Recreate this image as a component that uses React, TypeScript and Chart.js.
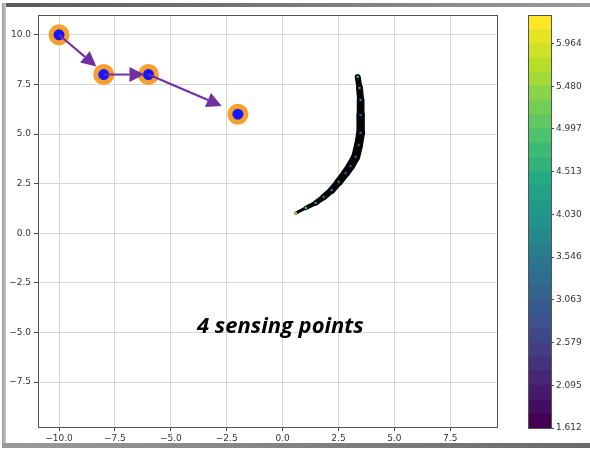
import React, { useEffect, useRef } from "react";
import { Chart, registerables } from "chart.js";

Chart.register(...registerables);

// Sensing locations visited in order
const sensorX = [-10, -8, -6, -2];
const sensorY = [10, 8, 8, 6];

// Arrows between consecutive sensing locations (tail -> tip)
const arrowFromX = [-10, -8, -6];
const arrowFromY = [10, 8, 8];
const arrowToX = [-8.33, -6.18, -2.72];
const arrowToY = [8.4, 8.0, 6.42];

// Estimated source trajectory and its field value
const pathX = [3.36, 3.44, 3.49, 3.49, 3.49, 3.4, 3.27, 3.04, 2.82, 2.51, 2.2, 1.84, 1.48, 1.04, 0.59];
const pathY = [7.88, 7.32, 6.72, 5.96, 5.06, 4.45, 3.85, 3.39, 3.04, 2.59, 2.18, 1.83, 1.53, 1.28, 1.02];
const pathValue = [4.6, 4.3, 3.4, 3.0, 2.9, 2.8, 2.7, 2.9, 3.1, 3.3, 3.5, 3.7, 4.2, 4.9, 5.9];

const xTicks = [-10, -7.5, -5, -2.5, 0, 2.5, 5, 7.5];
const yTicks = [-7.5, -5, -2.5, 0, 2.5, 5, 7.5, 10];
const xRange = [-10.94, 9.59];
const yRange = [-9.76, 11.0];

const cbarTicks = [1.612, 2.095, 2.579, 3.063, 3.546, 4.03, 4.513, 4.997, 5.48, 5.964];
const cbarMin = 1.612;
const cbarMax = 6.287;
const cbarLevels = 29;

const caption = "4 sensing points";
const captionAt = [-0.1, -4.72];

const VIRIDIS = [
  [68, 1, 84], [72, 36, 117], [65, 68, 135], [53, 95, 141], [42, 120, 142],
  [33, 145, 140], [34, 168, 132], [68, 191, 112], [122, 209, 81], [189, 223, 38], [253, 231, 37],
];

function viridis(t: number): string {
  const c = Math.max(0, Math.min(1, t)) * (VIRIDIS.length - 1);
  const i = Math.min(VIRIDIS.length - 2, Math.floor(c));
  const f = c - i;
  const a = VIRIDIS[i], b = VIRIDIS[i + 1];
  const m = (k: number) => Math.round(a[k] + (b[k] - a[k]) * f);
  return `rgb(${m(0)},${m(1)},${m(2)})`;
}

const valueColor = (v: number) => viridis((v - cbarMin) / (cbarMax - cbarMin));

const FONT = { family: "'DejaVu Sans', sans-serif", size: 9 };
const TICK_COLOR = "#333";

const fmtAxis = (v: number) => v.toFixed(1).replace("-", "\u2212");

const mainOverlay = {
  id: "mainOverlay",
  afterDatasetsDraw(chart: any) {
    const { ctx, scales } = chart;
    const xs = scales.x, ys = scales.y;
    ctx.save();
    // arrows
    ctx.strokeStyle = "#7030a0";
    ctx.fillStyle = "#7030a0";
    ctx.lineWidth = 2;
    for (let i = 0; i < arrowFromX.length; i++) {
      const x0 = xs.getPixelForValue(arrowFromX[i]);
      const y0 = ys.getPixelForValue(arrowFromY[i]);
      const x1 = xs.getPixelForValue(arrowToX[i]);
      const y1 = ys.getPixelForValue(arrowToY[i]);
      const ang = Math.atan2(y1 - y0, x1 - x0);
      const headLen = 15, headHalf = 7.5;
      const bx = x1 - headLen * Math.cos(ang);
      const by = y1 - headLen * Math.sin(ang);
      ctx.beginPath();
      ctx.moveTo(x0, y0);
      ctx.lineTo(bx, by);
      ctx.stroke();
      ctx.beginPath();
      ctx.moveTo(x1, y1);
      ctx.lineTo(bx + headHalf * Math.sin(ang), by - headHalf * Math.cos(ang));
      ctx.lineTo(bx - headHalf * Math.sin(ang), by + headHalf * Math.cos(ang));
      ctx.closePath();
      ctx.fill();
    }
    // caption
    ctx.fillStyle = "#000";
    ctx.font = "italic bold 22px 'Open Sans', sans-serif";
    ctx.textAlign = "center";
    ctx.textBaseline = "middle";
    ctx.fillText(caption, xs.getPixelForValue(captionAt[0]), ys.getPixelForValue(captionAt[1]));
    ctx.restore();
  },
  afterDraw(chart: any) {
    const { ctx, chartArea: a } = chart;
    ctx.save();
    ctx.strokeStyle = "#555";
    ctx.lineWidth = 1;
    ctx.strokeRect(Math.round(a.left) + 0.5, Math.round(a.top) + 0.5, Math.round(a.right - a.left), Math.round(a.bottom - a.top));
    ctx.restore();
  },
};

const cbarOutline = {
  id: "cbarOutline",
  afterDatasetsDraw(chart: any) {
    const { ctx, chartArea: a } = chart;
    ctx.save();
    ctx.strokeStyle = "#555";
    ctx.lineWidth = 1;
    ctx.strokeRect(Math.round(a.left) + 0.5, Math.round(a.top) + 0.5, Math.round(a.right - a.left), Math.round(a.bottom - a.top));
    ctx.restore();
  },
};

function MainPlot() {
  const ref = useRef<HTMLCanvasElement>(null);
  useEffect(() => {
    const n = pathX.length;
    const chart = new Chart(ref.current!, {
      type: "scatter",
      data: {
        datasets: [
          {
            data: sensorX.map((x, i) => ({ x, y: sensorY[i] })),
            pointRadius: 8,
            pointBorderWidth: 5,
            pointBorderColor: "#f7a02c",
            pointBackgroundColor: "#1616ff",
            order: 1,
          } as any,
          {
            data: pathX.map((x, i) => ({ x, y: pathY[i] })),
            pointRadius: 1.3,
            pointBorderWidth: 0,
            pointBackgroundColor: pathValue.map(valueColor),
            order: 2,
          },
          {
            data: pathX.map((x, i) => ({ x, y: pathY[i] })),
            showLine: true,
            borderColor: "#050505",
            borderCapStyle: "round",
            borderJoinStyle: "round",
            pointRadius: 0,
            segment: {
              borderWidth: (c: any) => {
                const t = (c.p0DataIndex + 0.5) / (n - 1);
                return 2.5 + 6.5 * Math.sin(Math.PI * (0.15 + 0.85 * t));
              },
            },
            order: 3,
          } as any,
        ],
      },
      options: {
        animation: false,
        responsive: false,
        devicePixelRatio: 1,
        layout: { padding: { left: 8, right: 11, top: 15, bottom: 5 } },
        plugins: { legend: { display: false }, tooltip: { enabled: false } },
        scales: {
          x: {
            type: "linear",
            min: xRange[0],
            max: xRange[1],
            afterBuildTicks: (s: any) => { s.ticks = xTicks.map((value) => ({ value })); },
            afterFit: (s: any) => { s.height = 18; },
            ticks: { font: FONT, color: TICK_COLOR, padding: 2, maxRotation: 0, callback: (v: any) => fmtAxis(Number(v)) },
            grid: { color: "#d6d6d6", lineWidth: 1, tickLength: 4, tickColor: "#444" },
            border: { display: false },
          },
          y: {
            type: "linear",
            min: yRange[0],
            max: yRange[1],
            afterBuildTicks: (s: any) => { s.ticks = yTicks.map((value) => ({ value })); },
            afterFit: (s: any) => { s.width = 30; },
            ticks: { font: FONT, color: TICK_COLOR, padding: 3, callback: (v: any) => fmtAxis(Number(v)) },
            grid: { color: "#d6d6d6", lineWidth: 1, tickLength: 4, tickColor: "#444" },
            border: { display: false },
          },
        },
      },
      plugins: [mainOverlay],
    } as any);
    return () => chart.destroy();
  }, []);
  return <canvas ref={ref} width={510} height={450} style={{ position: "absolute", left: 0, top: 0 }} />;
}

function ColorBar() {
  const ref = useRef<HTMLCanvasElement>(null);
  useEffect(() => {
    const step = (cbarMax - cbarMin) / cbarLevels;
    const bands = Array.from({ length: cbarLevels }, (_, i) => ({
      lo: cbarMin + i * step,
      hi: cbarMin + (i + 1) * step,
      color: viridis(i / (cbarLevels - 1)),
    }));
    const chart = new Chart(ref.current!, {
      type: "bar",
      data: {
        labels: ["band"],
        datasets: bands.map((b) => ({
          data: [[b.lo, b.hi]],
          backgroundColor: b.color,
          borderWidth: 0,
          barPercentage: 1,
          categoryPercentage: 1,
          grouped: false,
        })),
      },
      options: {
        animation: false,
        responsive: false,
        devicePixelRatio: 1,
        layout: { padding: { left: 18, right: 0, top: 15, bottom: 22 } },
        plugins: { legend: { display: false }, tooltip: { enabled: false } },
        scales: {
          x: { display: false },
          y: {
            position: "right",
            min: cbarMin,
            max: cbarMax,
            afterBuildTicks: (s: any) => { s.ticks = cbarTicks.map((value) => ({ value })); },
            afterFit: (s: any) => { s.width = 39; },
            ticks: { font: FONT, color: TICK_COLOR, padding: 2, callback: (v: any) => Number(v).toFixed(3) },
            grid: { drawOnChartArea: false, tickLength: 3, tickColor: "#444" },
            border: { display: false },
          },
        },
      },
      plugins: [cbarOutline],
    } as any);
    return () => chart.destroy();
  }, []);
  return <canvas ref={ref} width={80} height={450} style={{ position: "absolute", left: 510, top: 0 }} />;
}

export default function App() {
  return (
    <div style={{ position: "fixed", left: 0, top: 0, width: 590, height: 450, background: "#fff", overflow: "hidden" }}>
      <MainPlot />
      <ColorBar />
      {/* window frame */}
      <div style={{ position: "absolute", left: 2, top: 3, width: 588, height: 4, background: "linear-gradient(to right, #5a5a5a, #9a9a9a)" }} />
      <div style={{ position: "absolute", left: 2, top: 3, width: 4, height: 445, background: "linear-gradient(to right, #9a9a9a, #c8c8c8)" }} />
      <div style={{ position: "absolute", left: 2, top: 443, width: 588, height: 5, background: "linear-gradient(to right, #9a9a9a, #6a6a6a)" }} />
    </div>
  );
}
